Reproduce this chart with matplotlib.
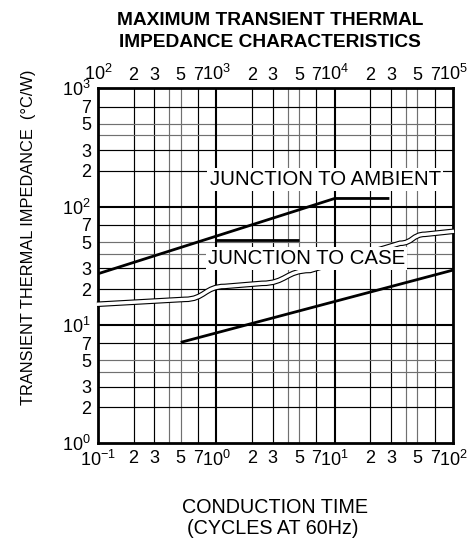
import numpy as np
import matplotlib
matplotlib.use('Agg')
import matplotlib.pyplot as plt
from matplotlib.path import Path
from matplotlib.patches import PathPatch

plt.rcParams['font.family'] = ['Liberation Sans', 'DejaVu Sans']
plt.rcParams['mathtext.fontset'] = 'custom'
plt.rcParams['mathtext.rm'] = 'Liberation Sans'
plt.rcParams['mathtext.it'] = 'Liberation Sans:italic'
plt.rcParams['mathtext.bf'] = 'Liberation Sans:bold'

# ---------------- data ----------------
ambient_x = [0.1, 10, 29]
ambient_y = [27, 117, 117]
case_flat_x = [1.0, 5.0]
case_flat_y = [52, 52]
case_x = [0.5, 100]
case_y = [7.1, 29]

# axis-break band knots (x, y)
break_x = [0.098, 0.54, 1.18, 2.43, 6.2, 35.7, 58, 102]
break_y = [14.9, 16.4, 21.1, 22.4, 28.8, 48.9, 58.2, 61.8]

bottom_ticks = [0.1, 0.2, 0.3, 0.5, 0.7, 1, 2, 3, 5, 7, 10, 20, 30, 50, 70, 100]
bottom_labels = ['$10^{-1}$', '2', '3', '5', '7', '$10^{0}$', '2', '3', '5', '7',
                 '$10^{1}$', '2', '3', '5', '7', '$10^{2}$']
top_ticks = [100, 200, 300, 500, 700, 1e3, 2e3, 3e3, 5e3, 7e3, 1e4, 2e4, 3e4, 5e4, 7e4, 1e5]
top_labels = ['$10^{2}$', '2', '3', '5', '7', '$10^{3}$', '2', '3', '5', '7',
              '$10^{4}$', '2', '3', '5', '7', '$10^{5}$']
left_ticks = [1, 2, 3, 5, 7, 10, 20, 30, 50, 70, 100, 200, 300, 500, 700, 1000]
left_labels = ['$10^{0}$', '2', '3', '5', '7', '$10^{1}$', '2', '3', '5', '7',
               '$10^{2}$', '2', '3', '5', '7', '$10^{3}$']

grid_black = [2, 3, 7]
grid_gray = [4, 5]

title_lines = ['MAXIMUM TRANSIENT THERMAL', 'IMPEDANCE CHARACTERISTICS']
ylabel = 'TRANSIENT THERMAL IMPEDANCE  (°C/W)'
xlabel_lines = ['CONDUCTION TIME', '(CYCLES AT 60Hz)']

# ---------------- figure ----------------
W, H = 475, 542
fig = plt.figure(figsize=(W / 100, H / 100), dpi=100)
L, R, T, B = 98, 453, 88.3, 443
ax = fig.add_axes([L / W, 1 - B / H, (R - L) / W, (B - T) / H])
ax.set_xscale('log')
ax.set_yscale('log')
ax.set_xlim(0.1, 100)
ax.set_ylim(1, 1000)

# grid
for dec in [0.1, 1, 10]:
    for m in grid_black:
        ax.axvline(m * dec, color='black', lw=0.85, zorder=1)
    for m in grid_gray:
        ax.axvline(m * dec, color='#707070', lw=0.85, zorder=1)
for dec in [1, 10, 100]:
    for m in grid_black:
        ax.axhline(m * dec, color='black', lw=0.85, zorder=1)
    for m in grid_gray:
        ax.axhline(m * dec, color='#707070', lw=0.85, zorder=1)
for d in [1, 10]:
    ax.axvline(d, color='black', lw=1.5, zorder=1)
for d in [10, 100]:
    ax.axhline(d, color='black', lw=1.5, zorder=1)

# curves
ax.plot(ambient_x, ambient_y, color='black', lw=2.0, solid_capstyle='butt', zorder=4)
ax.plot(case_flat_x, case_flat_y, color='black', lw=2.0, solid_capstyle='butt', zorder=4)
ax.plot(case_x, case_y, color='black', lw=2.0, solid_capstyle='butt', zorder=4)

# axis-break band (wavy double line)
verts = [(break_x[0], break_y[0]), (break_x[1], break_y[1])]
codes = [Path.MOVETO, Path.LINETO]
def s_curve(i, j):
    gm = np.sqrt(break_x[i] * break_x[j])
    verts.extend([(gm, break_y[i]), (gm, break_y[j]), (break_x[j], break_y[j])])
    codes.extend([Path.CURVE4] * 3)
s_curve(1, 2)
verts.append((break_x[3], break_y[3])); codes.append(Path.LINETO)
s_curve(3, 4)
verts.append((break_x[5], break_y[5])); codes.append(Path.LINETO)
s_curve(5, 6)
verts.append((break_x[7], break_y[7])); codes.append(Path.LINETO)
path = Path(verts, codes)
ax.add_patch(PathPatch(path, fill=False, edgecolor='black', lw=4.0,
                       capstyle='butt', clip_on=False, zorder=6))
ax.add_patch(PathPatch(path, fill=False, edgecolor='white', lw=2.4,
                       capstyle='butt', clip_on=False, zorder=6.1))

# labels inside
ax.text(8.3, 10 ** (3 - (185 - T) / 118), 'JUNCTION TO AMBIENT', fontsize=14.7,
        ha='center', va='baseline', zorder=7,
        bbox=dict(facecolor='white', edgecolor='none', pad=1.5))
ax.text(5.8, 10 ** (3 - (263.3 - T) / 118), 'JUNCTION TO CASE', fontsize=14.7,
        ha='center', va='baseline', zorder=7,
        bbox=dict(facecolor='white', edgecolor='none', pad=1.5))

# ticks
ax.set_xticks(bottom_ticks)
ax.set_xticklabels(bottom_labels)
ax.set_yticks(left_ticks)
ax.set_yticklabels(left_labels)
ax.minorticks_off()
ax.tick_params(axis='x', length=0, pad=5, labelsize=13)
ax.tick_params(axis='y', length=0, pad=5, labelsize=13)

ax2 = ax.twiny()
ax2.set_xscale('log')
ax2.set_xlim(100, 1e5)
ax2.set_xticks(top_ticks)
ax2.set_xticklabels(top_labels)
ax2.minorticks_off()
ax2.tick_params(axis='x', length=0, pad=3, labelsize=13)
for s in ax2.spines.values():
    s.set_visible(False)

for s in ax.spines.values():
    s.set_linewidth(2.0)
    s.set_zorder(5)

# title & axis labels
for i, line in enumerate(title_lines):
    fig.text(270 / W, 1 - [25, 46.7][i] / H, line, fontsize=13.8,
             fontweight='bold', ha='center', va='baseline')
fig.text(29 / W, 1 - 237.5 / H, ylabel, rotation=90, fontsize=11.8,
         ha='center', va='center')
fig.text(275 / W, 1 - 513 / H, xlabel_lines[0], fontsize=14.2, ha='center', va='baseline')
fig.text(272.5 / W, 1 - 534.3 / H, xlabel_lines[1], fontsize=14.2, ha='center', va='baseline')

fig.savefig('out.png', dpi=100)
